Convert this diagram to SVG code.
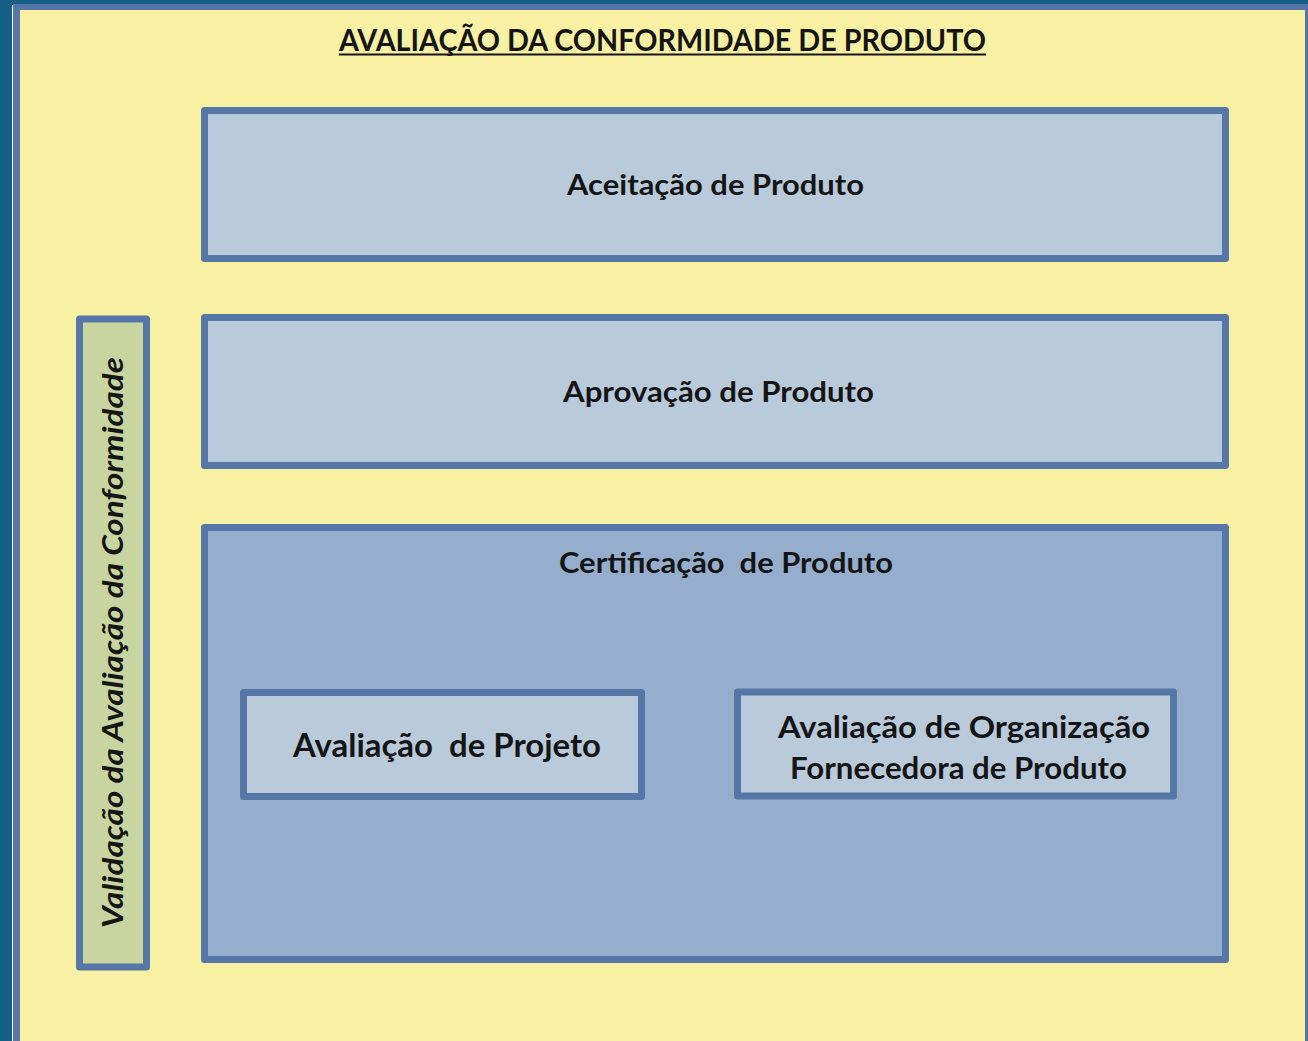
<svg xmlns="http://www.w3.org/2000/svg" width="1308" height="1041" viewBox="0 0 1308 1041">
<style>
.box{stroke:#5676a8;stroke-width:7;stroke-linejoin:round}
.light{fill:#b9cadb}
.t{font-family:Lato,"Open Sans","Liberation Sans",sans-serif;font-weight:bold;fill:#151515;text-anchor:middle}
</style>
<rect x="0" y="0" width="1308" height="1041" fill="#155e85"/>
<rect x="12" y="5" width="1296" height="1036" fill="#ffffff"/>
<rect x="13" y="4" width="1295" height="1037" fill="#5676a8"/>
<rect x="20" y="10" width="1285" height="1031" fill="#f8f1a3"/>
<g id="title">
<text class="t" x="662.5" y="51" font-size="30" textLength="647" lengthAdjust="spacingAndGlyphs">AVALIAÇÃO DA CONFORMIDADE DE PRODUTO</text>
<line x1="339" y1="54.5" x2="986" y2="54.5" stroke="#151515" stroke-width="2"/>
</g>
<g id="aceitacao">
<rect class="box light" x="204.5" y="110.5" width="1021" height="148"/>
<text class="t" x="715.5" y="195" font-size="28" textLength="297" lengthAdjust="spacingAndGlyphs">Aceitação de Produto</text>
</g>
<g id="aprovacao">
<rect class="box light" x="204.5" y="317.5" width="1021" height="148"/>
<text class="t" x="718.5" y="402" font-size="28" textLength="311" lengthAdjust="spacingAndGlyphs">Aprovação de Produto</text>
</g>
<g id="certificacao">
<rect class="box" fill="#95aecd" x="204.5" y="527.5" width="1021" height="432"/>
<text class="t" x="726" y="573" font-size="28" textLength="334" lengthAdjust="spacingAndGlyphs" xml:space="preserve">Certificação  de Produto</text>
</g>
<g id="projeto">
<rect class="box light" x="243.5" y="692.5" width="398" height="104"/>
<text class="t" x="447" y="757" font-size="32" font-weight="600" textLength="308" lengthAdjust="spacingAndGlyphs" xml:space="preserve">Avaliação  de Projeto</text>
</g>
<g id="organizacao">
<rect class="box light" x="737.5" y="692" width="436" height="104"/>
<text class="t" x="964" y="738" font-size="31" font-weight="600" textLength="372" lengthAdjust="spacingAndGlyphs">Avaliação de Organização</text>
<text class="t" x="958.5" y="779" font-size="31" font-weight="600" textLength="337" lengthAdjust="spacingAndGlyphs">Fornecedora de Produto</text>
</g>
<g id="validacao">
<rect class="box" fill="#c8d5a0" x="79.5" y="319" width="67" height="648"/>
<text class="t" transform="translate(123,642.5) rotate(-90)" font-size="29" font-style="italic" textLength="571" lengthAdjust="spacingAndGlyphs">Validação da Avaliação da Conformidade</text>
</g>
<g id="connectors"></g>
</svg>
